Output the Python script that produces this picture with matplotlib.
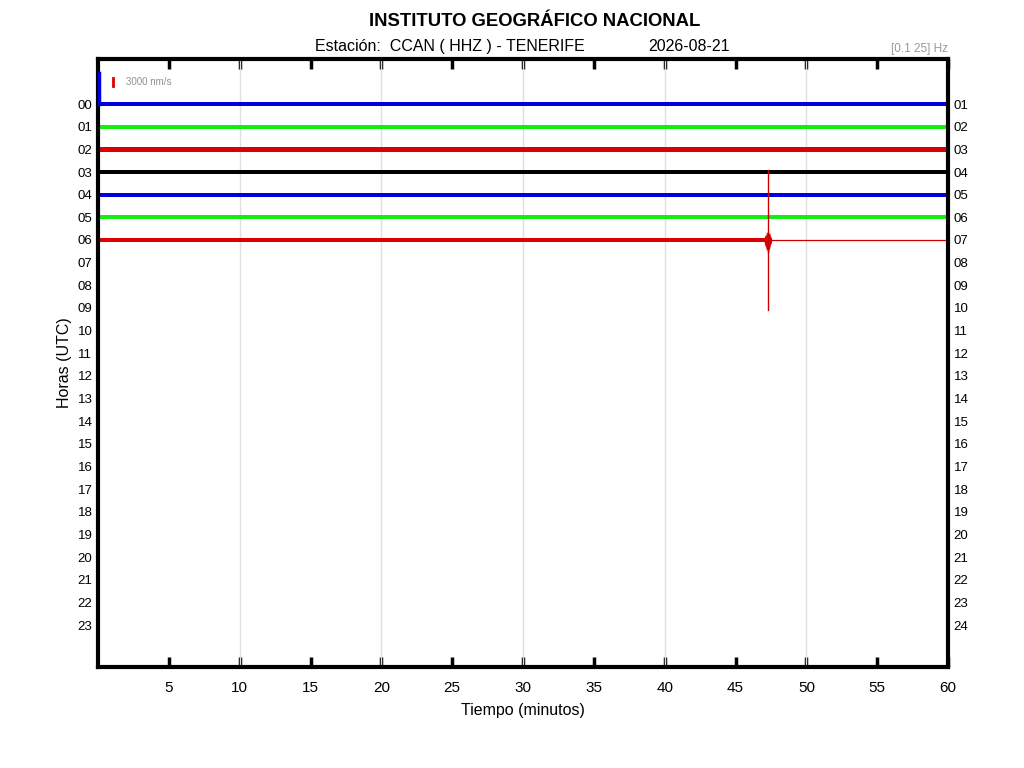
import matplotlib
matplotlib.use('Agg')
import matplotlib.pyplot as plt

plt.rcParams['font.family'] = ['Liberation Sans', 'DejaVu Sans']

# === Data read from the helicorder ===
hours_left = ['%02d' % h for h in range(24)]
hours_right = ['%02d' % h for h in range(1, 25)]
trace_hours = [0, 1, 2, 3, 4, 5, 6]
trace_colors = ['#0000dd', '#11ee11', '#dd0000', '#000000', '#0000dd', '#11ee11', '#dd0000']

# noise half-width of each hourly trace (hour units) and where its data ends (minutes)
trace_amp = [0.085, 0.095, 0.10, 0.08, 0.095, 0.095, 0.09]
trace_end = [60, 60, 60, 60, 60, 60, 47.3]

# earthquake at the end of hour 06
event_t = [47.02, 47.08, 47.13, 47.18, 47.22, 47.27, 47.32, 47.37, 47.42, 47.47, 47.55]
event_up = [0.10, 0.22, 0.18, 0.35, 0.30, 0.43, 0.38, 0.28, 0.30, 0.16, 0.09]
event_down = [0.10, 0.25, 0.30, 0.45, 0.40, 0.67, 0.60, 0.42, 0.35, 0.20, 0.09]
spike_t = 47.3
spike_range = [-3.1, 3.1]
start_spike = [-1.35, 0.0]

xticks = [5, 10, 15, 20, 25, 30, 35, 40, 45, 50, 55, 60]

# === Figure ===
fig = plt.figure(figsize=(10.24, 7.68), dpi=100)
ax = fig.add_axes([0.0957, 0.1315, 0.8301, 0.7917])

for h, c, a, end in zip(trace_hours, trace_colors, trace_amp, trace_end):
    ax.fill_between([0, end], [h - a, h - a], [h + a, h + a], color=c, lw=0, zorder=3)

# event on hour 06
ax.fill_between(event_t, [6 - u for u in event_up], [6 + d for d in event_down],
                color='#dd0000', lw=0, zorder=4)
ax.plot([spike_t, spike_t], [6 + spike_range[0], 6 + spike_range[1]],
        color='#cc0000', lw=1, zorder=4)
ax.plot([trace_end[6], 60], [6, 6], color='#cc0000', lw=0.9, zorder=4)
ax.plot([0.05, 0.05], [start_spike[0], start_spike[1]], color='#0000dd', lw=2.5,
        zorder=6, clip_on=False)

# scale bar
ax.plot([1.05, 1.05], [-1.15, -0.8], color='#dd0000', lw=2, zorder=4)
ax.text(2.0, -0.98, '3000 nm/s', fontsize=7, color='#909090', va='center', ha='left')

ax.set_xlim(0, 60)
ax.set_ylim(24.85, -1.99)
ax.set_xticks(xticks)
ax.set_xticklabels([str(t) for t in xticks], fontsize=11)
ax.set_yticks(range(24))
ax.set_yticklabels(hours_left, fontsize=9.5)
ax.tick_params(axis='x', direction='in', length=7, width=2.5, top=True, pad=10)
ax.tick_params(axis='y', length=0, pad=4)
for x10 in [10, 20, 30, 40, 50]:
    ax.axvline(x10, color='#e0e0e0', lw=1, zorder=2.7)
for s in ax.spines.values():
    s.set_linewidth(3)
    s.set_zorder(5)

ax2 = ax.twinx()
ax2.set_ylim(24.85, -1.99)
ax2.set_yticks(range(24))
ax2.set_yticklabels(hours_right, fontsize=9.5)
ax2.tick_params(axis='y', length=0, pad=4)
for s in ax2.spines.values():
    s.set_visible(False)

ax.set_xlabel('Tiempo (minutos)', fontsize=11.5, labelpad=6)
ax.set_ylabel('Horas (UTC)', fontsize=11.5, labelpad=4)

fig.text(0.5225, 0.972, 'INSTITUTO GEOGRÁFICO NACIONAL', fontsize=13.3, fontweight='bold',
         ha='center', va='center')
fig.text(0.308, 0.939, 'Estación:  CCAN ( HHZ ) - TENERIFE', fontsize=11.5,
         ha='left', va='center')
fig.text(0.633, 0.939, '2026-08-21', fontsize=11.5, ha='left', va='center')
fig.text(0.926, 0.936, '[0.1 25] Hz', fontsize=8.5, color='#999999', ha='right', va='center')

fig.savefig('out.png', dpi=100)
